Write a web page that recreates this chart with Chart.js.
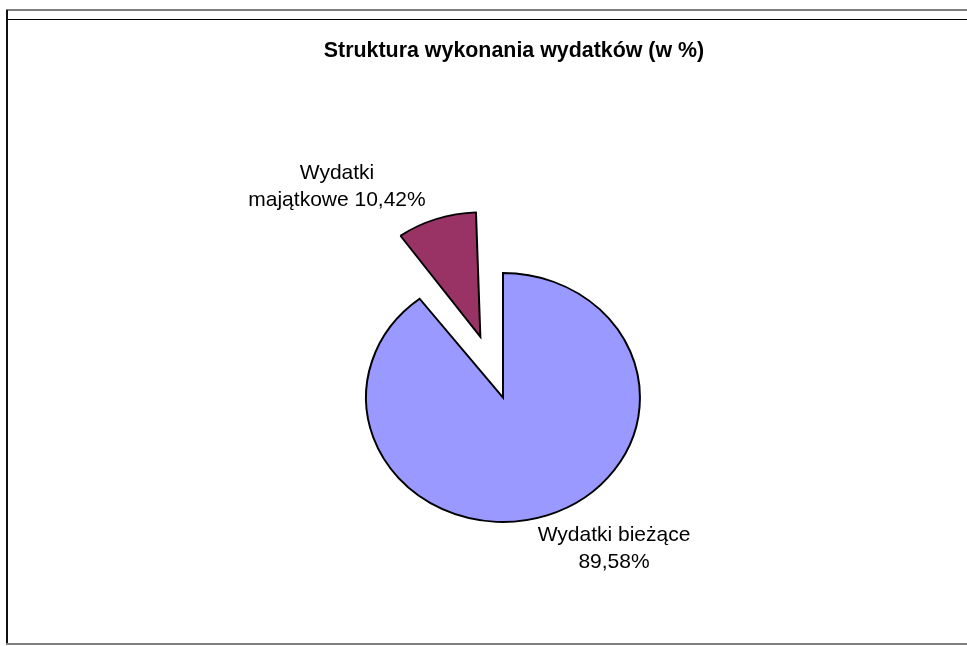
<!DOCTYPE html>
<html>
<head>
<meta charset="utf-8">
<script src="https://cdn.jsdelivr.net/npm/chart.js"></script>
<style>
  body { margin: 0; background: #fff; }
  #wrap { position: relative; width: 967px; height: 646px; }
  #chart { position: absolute; left: 0; top: 0; }
  .ln { position: absolute; }
</style>
</head>
<body>
<div id="wrap">
  <canvas id="chart" width="967" height="646"></canvas>
  <div class="ln" style="left:6px;top:9px;width:961px;height:2px;background:#7f7f7f;"></div>
  <div class="ln" style="left:7px;top:19px;width:960px;height:1px;background:#000;"></div>
  <div class="ln" style="left:6px;top:10px;width:2px;height:634px;background:#111;"></div>
  <div class="ln" style="left:6px;top:643px;width:961px;height:2px;background:#7f7f7f;"></div>
</div>
<script>
const chartTitle = 'Struktura wykonania wydatków (w %)';
const categories = ['Wydatki bieżące', 'Wydatki majątkowe'];
const shares = [89.58, 10.42];
const sliceColors = ['#9999FF', '#993366'];
// Chart.js moves an arc by offset / 4
const explode = [0, 256];
// label lines as in the original (Excel wraps the small one differently)
const labelLines = [
  ['Wydatki bieżące', '89,58%'],
  ['Wydatki', 'majątkowe 10,42%']
];
// label centre relative to pie centre
const labelOffsets = [[111, 151], [-166, -211]];

const STRETCH = 1.1; // original pie is a bit wider than tall

// Chart.js also grows an exploded arc's radius; undo that so both slices match
const keepRadiusPlugin = {
  id: 'keepRadius',
  afterDatasetsUpdate(chart) {
    chart.getDatasetMeta(0).data.forEach((arc, i) => {
      const off = (explode[i] || 0) / 4;
      const circ = arc.endAngle - arc.startAngle;
      const fix = 1 - Math.sin(Math.min(Math.PI, circ));
      arc.outerRadius -= off * fix;
    });
  }
};

// draw the pie as a slightly stretched ellipse
const ellipsePlugin = {
  id: 'ellipse',
  beforeDatasetsDraw(chart) {
    const a = chart.chartArea;
    const cx = (a.left + a.right) / 2;
    const ctx = chart.ctx;
    ctx.save();
    ctx.translate(cx, 0);
    ctx.scale(STRETCH, 1);
    ctx.translate(-cx, 0);
  },
  afterDatasetsDraw(chart) {
    chart.ctx.restore();
  }
};

const textPlugin = {
  id: 'texts',
  afterDraw(chart) {
    const ctx = chart.ctx;
    const a = chart.chartArea;
    const cx = (a.left + a.right) / 2;
    const cy = (a.top + a.bottom) / 2;
    ctx.save();
    ctx.fillStyle = '#000';
    ctx.textAlign = 'center';
    ctx.textBaseline = 'middle';
    ctx.font = 'bold 21.4px "Liberation Sans", Arial, sans-serif';
    ctx.fillText(chartTitle, 514, 51);
    ctx.font = '21px "Liberation Sans", Arial, sans-serif';
    labelLines.forEach((lines, i) => {
      const lx = cx + labelOffsets[i][0];
      const ly = cy + labelOffsets[i][1];
      lines.forEach((t, j) => {
        ctx.fillText(t, lx, ly + (j - (lines.length - 1) / 2) * 27.5);
      });
    });
    ctx.restore();
  }
};

new Chart(document.getElementById('chart'), {
  type: 'pie',
  data: {
    labels: categories,
    datasets: [{
      data: shares,
      backgroundColor: sliceColors,
      borderColor: '#000',
      borderWidth: 1.8,
      borderJoinStyle: 'miter',
      offset: explode,
      clip: false
    }]
  },
  options: {
    responsive: false,
    animation: false,
    radius: 124.5,
    layout: { padding: { left: 39, right: 0, top: 149, bottom: 0 } },
    events: [],
    plugins: {
      legend: { display: false },
      title: { display: false },
      tooltip: { enabled: false }
    }
  },
  plugins: [keepRadiusPlugin, ellipsePlugin, textPlugin]
});
</script>
</body>
</html>
